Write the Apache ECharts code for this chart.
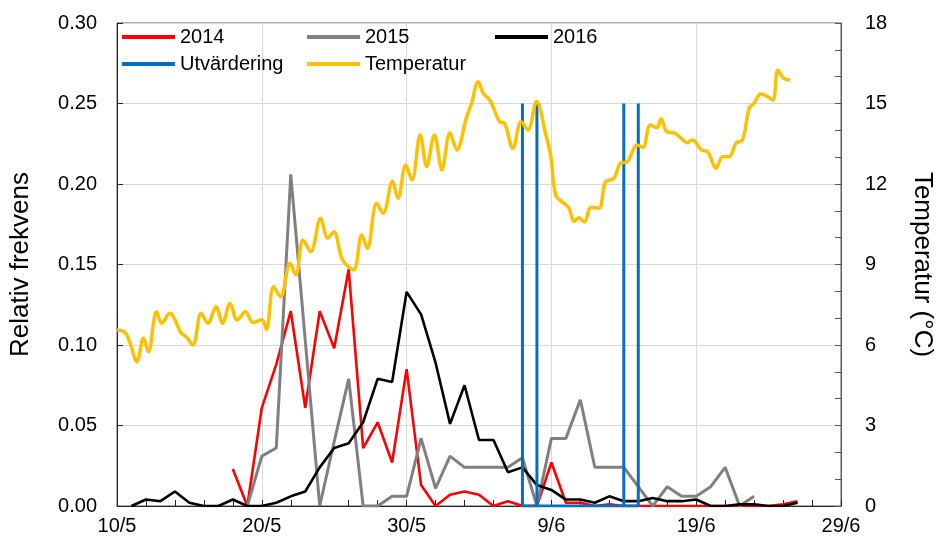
<!DOCTYPE html>
<html>
<head>
<meta charset="utf-8">
<script src="https://cdn.jsdelivr.net/npm/echarts@6/dist/echarts.min.js"></script>
<style>
  html, body { margin: 0; padding: 0; background: #fff; }
  #chart { width: 943px; height: 544px; }
</style>
</head>
<body>
<div id="chart"></div>
<script>
// day 0 = 10/5
const xTickLabels = ["10/5", "20/5", "30/5", "9/6", "19/6", "29/6"];

const start2014 = 8;
const freq2014 = [0.023, 0, 0.061, 0.088, 0.121, 0.061, 0.121, 0.098, 0.147, 0.036,
  0.052, 0.027, 0.085, 0.013, 0, 0.007, 0.009, 0.007, 0, 0.003,
  0, 0, 0.027, 0.002, 0.002, 0, 0.001, 0, 0, 0,
  0, 0, 0, 0, 0, 0, 0, 0, 0.001, 0.003];

const start2015 = 9;
const freq2015 = [0, 0.031, 0.036, 0.206, 0.103, 0, 0.04, 0.079, 0, 0,
  0.006, 0.006, 0.042, 0.011, 0.031, 0.024, 0.024, 0.024, 0.024, 0.03,
  0, 0.042, 0.042, 0.066, 0.024, 0.024, 0.024, 0.012, 0, 0.012,
  0.006, 0.006, 0.012, 0.024, 0, 0.006];

const start2016 = 1;
const freq2016 = [0, 0.004, 0.003, 0.009, 0.002, 0, 0, 0.004, 0, 0,
  0.002, 0.006, 0.009, 0.024, 0.036, 0.039, 0.052, 0.079, 0.077, 0.133,
  0.119, 0.089, 0.051, 0.075, 0.041, 0.041, 0.021, 0.024, 0.013, 0.01,
  0.004, 0.004, 0.002, 0.006, 0.003, 0.003, 0.005, 0.003, 0.003, 0.004,
  0, 0, 0.001, 0.001, 0, 0, 0.002];

const evalDays = [28, 28, 29, 29, 29, 35, 35, 35, 36, 36];
const evalVals = [0.25, 0, 0, 0.25, 0, 0, 0.25, 0, 0, 0.25];

const tempDays = [0, 0.57, 0.91, 1.37, 1.83, 2.17, 2.73, 3.08, 3.64, 4.44,
  4.78, 5.24, 5.81, 6.27, 6.84, 7.29, 7.81, 8.30, 8.87, 9.40,
  10.01, 10.32, 10.81, 11.30, 11.95, 12.35, 12.85, 13.38, 14.06, 14.56,
  14.97, 15.58, 16.34, 16.90, 17.29, 17.93, 18.39, 19.02, 19.41, 19.94,
  20.37, 20.94, 21.39, 21.92, 22.44, 22.99, 23.47, 24.15, 24.49, 24.95,
  25.29, 25.75, 26.43, 26.77, 27.34, 27.91, 28.37, 28.98, 29.62, 29.96,
  30.30, 30.87, 31.22, 31.56, 31.89, 32.28, 32.74, 33.29, 33.73, 34.31,
  34.76, 35.24, 35.92, 36.32, 36.83, 37.29, 37.57, 37.97, 38.54, 39.03,
  39.37, 39.71, 39.90, 40.35, 40.81, 41.37, 41.83, 42.29, 42.74, 43.20,
  43.66, 44.00, 44.45, 44.91, 45.30, 45.64, 46.05, 46.50];
const tempC = [6.56, 6.46, 6.06, 5.38, 6.25, 5.75, 7.24, 6.81, 7.18, 6.44,
  6.31, 6.00, 7.18, 6.81, 7.43, 6.81, 7.55, 6.93, 7.24, 6.84,
  6.94, 6.58, 8.17, 7.80, 9.05, 8.61, 9.91, 9.48, 10.72, 9.98,
  10.22, 9.17, 8.80, 10.10, 9.60, 11.28, 10.91, 12.09, 11.47, 12.71,
  12.15, 13.83, 12.65, 13.83, 12.52, 13.91, 13.27, 14.51, 15.01, 15.81,
  15.38, 15.13, 14.32, 14.26, 13.33, 14.32, 14.01, 15.07, 13.83, 13.02,
  11.59, 11.28, 11.10, 10.60, 10.74, 10.58, 11.13, 11.10, 12.07, 12.21,
  12.77, 12.83, 13.45, 13.36, 14.20, 14.10, 14.43, 13.95, 13.89, 13.67,
  13.54, 13.64, 13.60, 13.27, 13.20, 12.59, 13.02, 13.02, 13.52, 13.64,
  14.82, 15.01, 15.35, 15.26, 15.13, 16.25, 15.94, 15.88];

const FONT = "'Liberation Sans', Arial, sans-serif";

function daily(start, values) {
  return values.map((v, i) => [start + i, v]);
}
function pairs(xs, ys) {
  return xs.map((x, i) => [x, ys[i]]);
}

const chart = echarts.init(document.getElementById("chart"), null, { renderer: "canvas" });

const lineSeries = (name, data, color, width, yAxisIndex) => ({
  name,
  type: "line",
  data,
  yAxisIndex,
  showSymbol: false,
  symbol: "none",
  lineStyle: { color, width },
  itemStyle: { color },
  emphasis: { disabled: true },
});

// one legend box per entry so the two rows line up like the original
const legendSpots = [
  ["2014", 122, 27], ["2015", 307, 27], ["2016", 495, 27],
  ["Utvärdering", 122, 54], ["Temperatur", 307, 54],
];
const legends = legendSpots.map(([name, left, top]) => ({
  data: [name], left, top, padding: 0,
  icon: "rect", itemWidth: 53, itemHeight: 4,
  textStyle: { fontFamily: FONT, fontSize: 20, color: "#000" },
}));

chart.setOption({
  animation: false,
  backgroundColor: "#fff",
  textStyle: { fontFamily: FONT },
  grid: {
    left: 115, right: 96, top: 23, bottom: 38,
    show: true, borderColor: "#595959", borderWidth: 1,
  },
  legend: legends,
  xAxis: {
    type: "value",
    min: 0, max: 50, interval: 10,
    axisLine: { lineStyle: { color: "#262626", width: 1 } },
    axisTick: { inside: true, length: 6, lineStyle: { color: "#262626" } },
    minorTick: { show: true, splitNumber: 5, length: 6, lineStyle: { color: "#262626" } },
    axisLabel: {
      color: "#000", fontSize: 20, fontFamily: FONT, margin: 10,
      formatter: (v) => xTickLabels[Math.round(v / 10)],
    },
    splitLine: { show: true, lineStyle: { color: "#d9d9d9", width: 1 } },
  },
  yAxis: [
    {
      type: "value",
      min: 0, max: 0.3, interval: 0.05,
      name: "Relativ frekvens",
      nameLocation: "middle", nameRotate: 90, nameGap: 83,
      nameTextStyle: { fontSize: 26, color: "#000", fontFamily: FONT },
      axisLine: { show: true, lineStyle: { color: "#262626", width: 1 } },
      axisTick: { show: true, inside: true, length: 6, lineStyle: { color: "#262626" } },
      axisLabel: {
        color: "#000", fontSize: 20, fontFamily: FONT, margin: 20,
        formatter: (v) => v.toFixed(2),
      },
      splitLine: { show: true, lineStyle: { color: "#d9d9d9", width: 1 } },
    },
    {
      type: "value",
      min: 0, max: 18, interval: 3,
      name: "Temperatur (°C)",
      nameLocation: "middle", nameRotate: -90, nameGap: 68,
      nameTextStyle: { fontSize: 26, color: "#000", fontFamily: FONT },
      axisLine: { show: true, lineStyle: { color: "#595959", width: 1 } },
      axisTick: { show: true, inside: true, length: 6, lineStyle: { color: "#595959" } },
      minorTick: { show: true, splitNumber: 3, length: 6, lineStyle: { color: "#595959" } },
      axisLabel: { color: "#000", fontSize: 20, fontFamily: FONT, margin: 24 },
      splitLine: { show: false },
    },
  ],
  series: [
    lineSeries("2014", daily(start2014, freq2014), "#ff0000", 2.6, 0),
    lineSeries("2015", daily(start2015, freq2015), "#808080", 3, 0),
    lineSeries("2016", daily(start2016, freq2016), "#000000", 2.6, 0),
    lineSeries("Utvärdering", pairs(evalDays, evalVals), "#0070c0", 3, 0),
    Object.assign(lineSeries("Temperatur", pairs(tempDays, tempC), "#ffc000", 3.5, 1), { smooth: 0.35 }),
  ],
});
</script>
</body>
</html>
